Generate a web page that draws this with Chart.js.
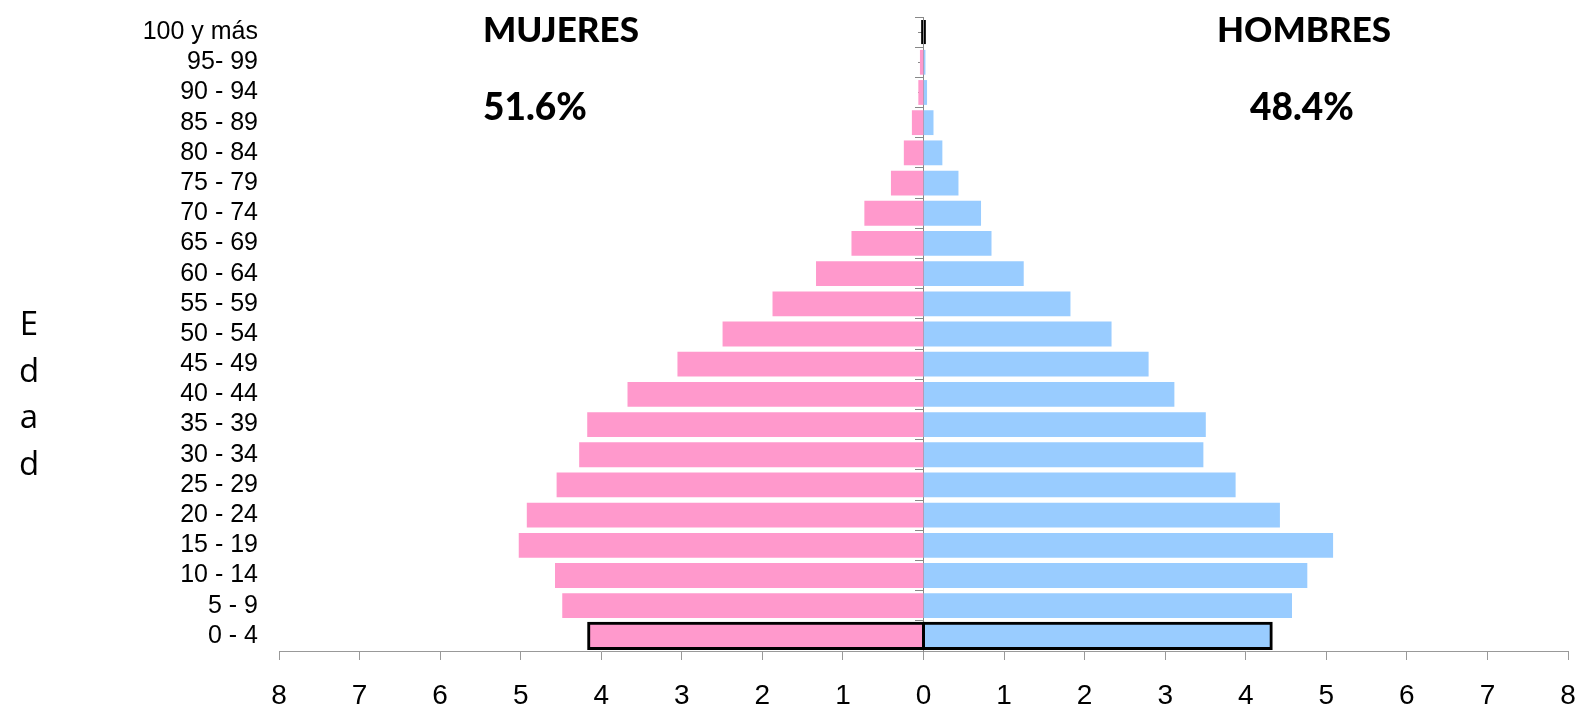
<!DOCTYPE html>
<html>
<head>
<meta charset="utf-8">
<script src="https://cdn.jsdelivr.net/npm/chart.js@4/dist/chart.umd.min.js"></script>
<style>
  html, body { margin: 0; padding: 0; background: #fff; }
  #wrap { position: relative; width: 1583px; height: 712px; }
  #c { position: absolute; left: 0; top: 0; }
  .ann { position: absolute; font-family: Lato, "Open Sans", sans-serif; font-weight: 900; font-size: 35px; line-height: 37px; color: #000; white-space: nowrap; }
  .pct { font-size: 37px; }
  #edad { position: absolute; left: 12px; top: 300px; width: 34px; text-align: center; font-family: "Open Sans", sans-serif; font-size: 33px; line-height: 46.5px; color: #000; }
</style>
</head>
<body>
<div id="wrap">
  <canvas id="c" width="1583" height="712"></canvas>
  <div class="ann" style="left:483px; top:10px;">MUJERES</div>
  <div class="ann" style="left:1217px; top:10px;">HOMBRES</div>
  <div class="ann pct" style="left:483px; top:87px;">51.6%</div>
  <div class="ann pct" style="left:1250px; top:87px;">48.4%</div>
  <div id="edad">E<br>d<br>a<br>d</div>
</div>
<script>
const ageGroups = ["100 y más", "95- 99", "90 - 94", "85 - 89", "80 - 84", "75 - 79", "70 - 74", "65 - 69", "60 - 64", "55 - 59", "50 - 54", "45 - 49", "40 - 44", "35 - 39", "30 - 34", "25 - 29", "20 - 24", "15 - 19", "10 - 14", "5 - 9", "0 - 4"];
const mujeres = [0.03, 0.04, 0.06, 0.14, 0.24, 0.40, 0.73, 0.89, 1.33, 1.87, 2.49, 3.05, 3.67, 4.17, 4.27, 4.55, 4.92, 5.02, 4.57, 4.48, 4.15];
const hombres = [0.03, 0.02, 0.04, 0.12, 0.23, 0.43, 0.71, 0.84, 1.24, 1.82, 2.33, 2.79, 3.11, 3.50, 3.47, 3.87, 4.42, 5.08, 4.76, 4.57, 4.31];
const highlighted = ["100 y más", "0 - 4"];

const isHi = (ctx) => highlighted.includes(ageGroups[ctx.dataIndex]);

const barCommon = {
  borderColor: '#000',
  borderWidth: (ctx) => isHi(ctx) ? 3 : 0,
  borderSkipped: false,
  inflateAmount: (ctx) => isHi(ctx) ? (Math.abs(ctx.raw) > 1 ? 2 : 0) : 0.33,
  barPercentage: 0.8,
  categoryPercentage: 1.0
};

const noPad = (s) => { s.paddingLeft = 0; s.paddingRight = 0; s.paddingTop = 0; s.paddingBottom = 0; };

new Chart(document.getElementById('c'), {
  type: 'bar',
  data: {
    labels: ageGroups,
    datasets: [
      Object.assign({ label: 'Mujeres', data: mujeres.map(v => -v), backgroundColor: '#FF99CC' }, barCommon),
      Object.assign({ label: 'Hombres', data: hombres, backgroundColor: '#99CCFF' }, barCommon)
    ]
  },
  options: {
    indexAxis: 'y',
    responsive: false,
    animation: false,
    layout: { padding: { top: 17, right: 15, left: 0, bottom: 0 } },
    plugins: { legend: { display: false }, tooltip: { enabled: false } },
    scales: {
      x: {
        stacked: true,
        min: -8, max: 8,
        ticks: { stepSize: 1, color: '#000', padding: 19, maxRotation: 0, autoSkip: false,
          font: { family: '"Liberation Sans", Arial, sans-serif', size: 28 },
          callback: (v) => Math.abs(v) },
        grid: { drawOnChartArea: false, tickLength: 9, color: '#999', tickColor: '#999' },
        border: { display: true, color: '#999', width: 1 },
        afterFit: (s) => { s.height = 61; noPad(s); }
      },
      y: {
        stacked: true,
        position: 'left',
        ticks: { color: '#000', padding: 21, autoSkip: false, font: { family: '"Liberation Sans", Arial, sans-serif', size: 25 } },
        grid: { display: false, drawTicks: false },
        border: { display: false },
        afterFit: (s) => { s.width = 279; noPad(s); }
      },
      y2: {
        type: 'category',
        position: { x: 0 },
        offset: true,
        z: 1,
        ticks: { display: false },
        grid: { drawOnChartArea: false, offset: true, tickLength: 8, color: '#888', tickColor: '#888' },
        border: { display: true, color: '#888', width: 1 },
        afterFit: noPad
      },
      y3: {
        type: 'category',
        position: { x: 0 },
        offset: true,
        z: 1,
        ticks: { display: false },
        grid: { drawOnChartArea: false, offset: false, tickLength: 6, color: '#888', tickColor: '#888' },
        border: { display: false },
        afterFit: noPad
      }
    }
  }
});
</script>
</body>
</html>
